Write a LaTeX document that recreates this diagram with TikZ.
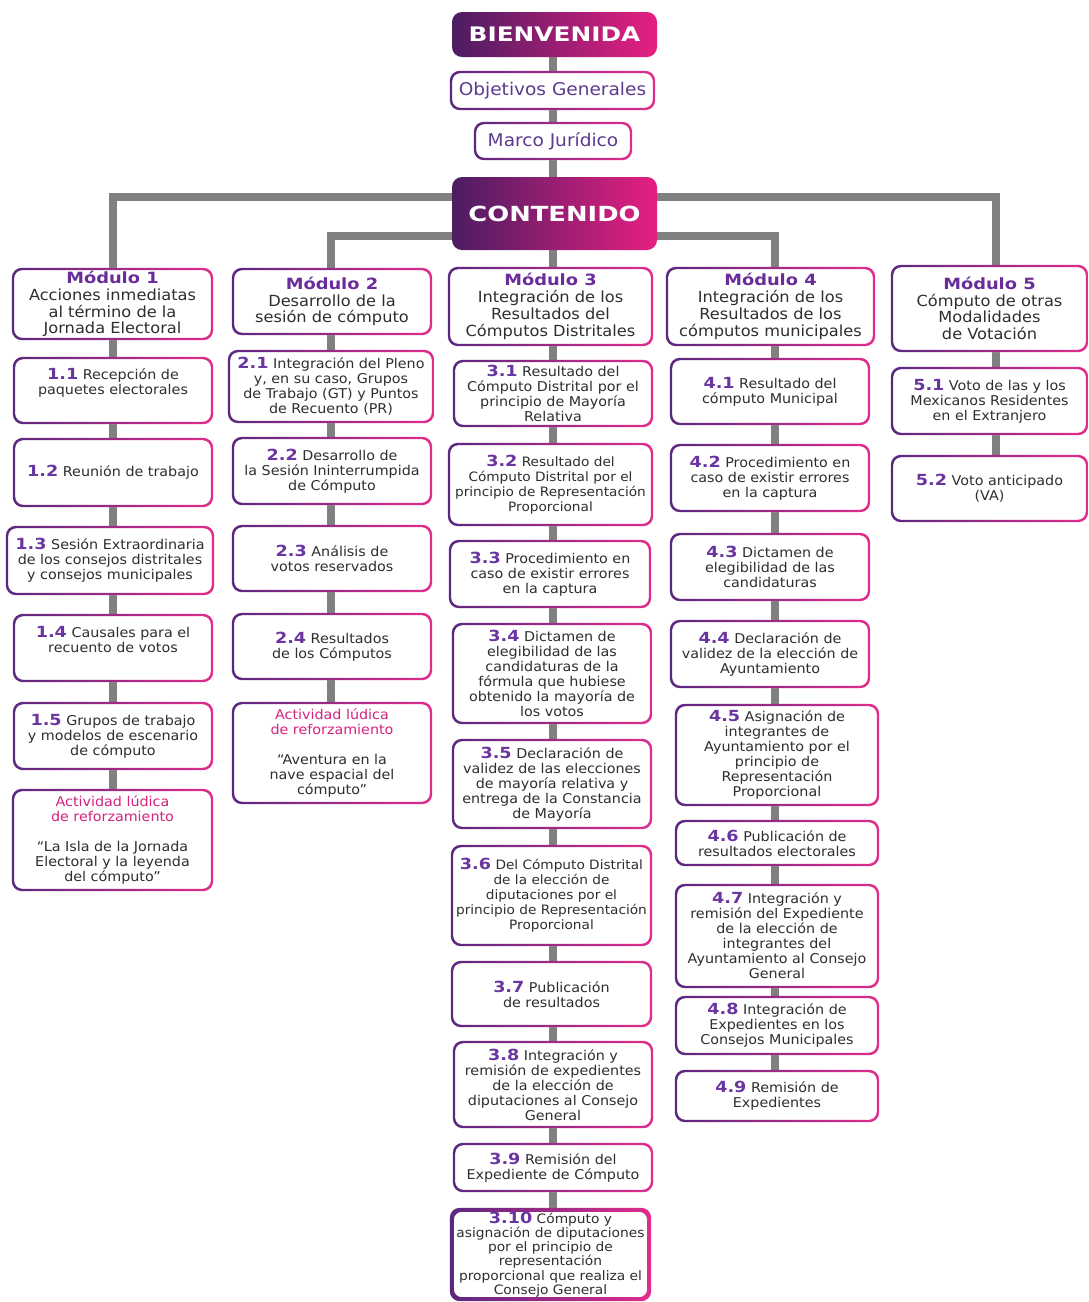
\documentclass[tikz,border=0pt]{standalone}
\usepackage{fontspec}
\setmainfont{DejaVu Sans}
\newfontfamily\bodyf[FakeStretch=1.06]{DejaVu Sans}
\newfontfamily\boldf[FakeStretch=1.15]{DejaVu Sans Bold}
\newfontfamily\bigbf[FakeStretch=1.24]{DejaVu Sans Bold}
\usetikzlibrary{backgrounds}
\definecolor{gL}{HTML}{4B1D63}
\definecolor{gR}{HTML}{E61F81}
\definecolor{bL}{HTML}{5A2880}
\definecolor{bR}{HTML}{E22C8C}
\definecolor{numc}{HTML}{6A35A0}
\definecolor{modc}{HTML}{6A2C9A}
\definecolor{introc}{HTML}{5C3A8E}
\definecolor{pinkc}{HTML}{D4237E}
\definecolor{bodyc}{HTML}{2E2E2E}
\definecolor{lgray}{HTML}{808080}
\newcommand\nm[1]{{\boldf\fontsize{15.3}{15}\selectfont\color{numc}#1}}
\newcommand\mt[1]{{\boldf\fontsize{15.5}{17}\selectfont\color{modc}#1}}
\newcommand\pk[1]{{\color{pinkc}#1}}
\newcommand\bx[7][box]{%
  \pgfmathsetmacro\bw{#5-#3}\pgfmathsetmacro\bh{#6-#4}%
  \pgfmathsetmacro\bcx{(#3+#5)/2}\pgfmathsetmacro\bcy{-(#4+#6)/2}%
  \node[#1,minimum width=\bw pt,minimum height=\bh pt] (#2) at (\bcx,\bcy) {#7};}
\newcommand\ring[2]{%
  \shade[left color=bL,right color=bR,even odd rule,rounded corners=10pt]
    (#1.south west) rectangle (#1.north east)
    [rounded corners=8pt] ([shift={(#2,#2)}]#1.south west) rectangle ([shift={(-#2,-#2)}]#1.north east);}
\tikzset{
  conn/.style={draw=lgray,line width=8pt},
  box/.style={rectangle,rounded corners=10pt,fill=white,inner sep=0pt,align=center,text=bodyc,
    font=\bodyf\fontsize{13.5}{15}\selectfont},
  narrow/.style={box,font=\bodyf\fontsize{12.9}{15}\selectfont},
  tight/.style={box,font=\bodyf\fontsize{13}{14.3}\selectfont},
  modbox/.style={box,font=\bodyf\fontsize{15.3}{16.8}\selectfont},
  intro/.style={box,text=introc,font=\bodyf\fontsize{17.5}{20}\selectfont},
  head/.style={rectangle,rounded corners=10pt,left color=gL,right color=gR,text=white,inner sep=0pt}
}
\begin{document}
\begin{tikzpicture}[x=1pt,y=1pt]
\useasboundingbox (0,0) rectangle (1089,-1302);
\coordinate (c1) at (113,0);
\coordinate (c2) at (331,0);
\coordinate (c3) at (553,0);
\coordinate (c4) at (775,0);
\coordinate (c5) at (996,0);
% top
\bx[head]{bien}{452}{12}{657}{57}{\bigbf\fontsize{20}{22}\selectfont BIENVENIDA}
\bx[intro]{obj}{450}{71}{655}{110}{Objetivos Generales}
\bx[intro]{marco}{474}{122}{632}{160}{Marco Jurídico}
\bx[head]{cont}{452}{177}{657}{250}{\bigbf\fontsize{20.8}{23}\selectfont CONTENIDO}
% column 1
\bx[modbox]{m1}{12}{268}{213}{340}{\mt{Módulo 1}\\Acciones inmediatas\\al término de la\\Jornada Electoral}
\bx{n11}{13}{357}{213}{424}{\nm{1.1} Recepción de\\paquetes electorales\\[4pt]}
\bx{n12}{13}{438}{213}{507}{\nm{1.2} Reunión de trabajo}
\bx{n13}{6}{526}{214}{595}{\nm{1.3} Sesión Extraordinaria\\de los consejos distritales\\y consejos municipales}
\bx{n14}{13}{614}{213}{682}{\nm{1.4} Causales para el\\recuento de votos\\[2pt]}
\bx{n15}{13}{702}{213}{770}{\nm{1.5} Grupos de trabajo\\y modelos de escenario\\de cómputo}
\bx{a1}{12}{789}{213}{891}{\pk{Actividad lúdica}\\\pk{de reforzamiento}\\[15pt]“La Isla de la Jornada\\Electoral y la leyenda\\del cómputo”}
% column 2
\bx[modbox]{m2}{232}{268}{432}{335}{\mt{Módulo 2}\\Desarrollo de la\\sesión de cómputo}
\bx{n21}{228}{350}{434}{423}{\nm{2.1} Integración del Pleno\\y, en su caso, Grupos\\de Trabajo (GT) y Puntos\\de Recuento (PR)}
\bx{n22}{232}{437}{432}{505}{\nm{2.2} Desarrollo de\\la Sesión Ininterrumpida\\de Cómputo}
\bx{n23}{232}{525}{432}{592}{\nm{2.3} Análisis de\\votos reservados}
\bx{n24}{232}{613}{432}{680}{\nm{2.4} Resultados\\de los Cómputos}
\bx{a2}{232}{702}{432}{804}{\pk{Actividad lúdica}\\\pk{de reforzamiento}\\[15pt]“Aventura en la\\nave espacial del\\cómputo”}
% column 3
\bx[modbox]{m3}{448}{267}{653}{346}{\mt{Módulo 3}\\Integración de los\\Resultados del\\Cómputos Distritales}
\bx{n31}{453}{360}{653}{427}{\nm{3.1} Resultado del\\Cómputo Distrital por el\\principio de Mayoría\\Relativa}
\bx[narrow]{n32}{448}{443}{653}{526}{\nm{3.2} Resultado del\\Cómputo Distrital por el\\principio de Representación\\Proporcional}
\bx{n33}{449}{540}{651}{608}{\nm{3.3} Procedimiento en\\caso de existir errores\\en la captura}
\bx{n34}{452}{623}{652}{724}{\nm{3.4} Dictamen de\\elegibilidad de las\\candidaturas de la\\fórmula que hubiese\\obtenido la mayoría de\\los votos}
\bx{n35}{452}{739}{652}{829}{\nm{3.5} Declaración de\\validez de las elecciones\\de mayoría relativa y\\entrega de la Constancia\\de Mayoría}
\bx[narrow]{n36}{451}{845}{652}{946}{\nm{3.6} Del Cómputo Distrital\\de la elección de\\diputaciones por el\\principio de Representación\\Proporcional}
\bx{n37}{451}{961}{652}{1027}{\nm{3.7} Publicación\\de resultados}
\bx{n38}{453}{1041}{653}{1128}{\nm{3.8} Integración y\\remisión de expedientes\\de la elección de\\diputaciones al Consejo\\General}
\bx{n39}{453}{1143}{653}{1192}{\nm{3.9} Remisión del\\Expediente de Cómputo}
\bx[tight]{n310}{450}{1208}{651}{1301}{\nm{3.10} Cómputo y\\asignación de diputaciones\\por el principio de\\representación\\proporcional que realiza el\\Consejo General}
% column 4
\bx[modbox]{m4}{666}{267}{875}{346}{\mt{Módulo 4}\\Integración de los\\Resultados de los\\cómputos municipales}
\bx{n41}{670}{358}{870}{425}{\nm{4.1} Resultado del\\cómputo Municipal}
\bx{n42}{670}{444}{870}{512}{\nm{4.2} Procedimiento en\\caso de existir errores\\en la captura}
\bx{n43}{670}{533}{870}{601}{\nm{4.3} Dictamen de\\elegibilidad de las\\candidaturas}
\bx{n44}{670}{620}{870}{688}{\nm{4.4} Declaración de\\validez de la elección de\\Ayuntamiento}
\bx{n45}{675}{704}{879}{806}{\nm{4.5} Asignación de\\integrantes de\\Ayuntamiento por el\\principio de\\Representación\\Proporcional}
\bx{n46}{675}{820}{879}{866}{\nm{4.6} Publicación de\\resultados electorales}
\bx{n47}{675}{884}{879}{988}{\nm{4.7} Integración y\\remisión del Expediente\\de la elección de\\integrantes del\\Ayuntamiento al Consejo\\General}
\bx{n48}{675}{996}{879}{1055}{\nm{4.8} Integración de\\Expedientes en los\\Consejos Municipales}
\bx{n49}{675}{1070}{879}{1122}{\nm{4.9} Remisión de\\Expedientes}
% column 5
\bx[modbox]{m5}{891}{265}{1088}{352}{\mt{Módulo 5}\\Cómputo de otras\\Modalidades\\de Votación}
\bx{n51}{891}{367}{1088}{435}{\nm{5.1} Voto de las y los\\Mexicanos Residentes\\en el Extranjero}
\bx{n52}{891}{455}{1088}{522}{\nm{5.2} Voto anticipado\\(VA)}
% connectors
\begin{pgfonlayer}{background}
  \foreach \a/\b in {bien/obj,obj/marco,marco/cont,cont/m3}
    \draw[conn] (c3 |- \a.south) -- (c3 |- \b.north);
  \draw[conn] ([yshift=16.5pt]cont.west) -| (c1 |- m1.north);
  \draw[conn] ([yshift=16.5pt]cont.east) -| (c5 |- m5.north);
  \draw[conn] ([yshift=-22.5pt]cont.west) -| (c2 |- m2.north);
  \draw[conn] ([yshift=-22.5pt]cont.east) -| (c4 |- m4.north);
  \foreach \a/\b in {m1/n11,n11/n12,n12/n13,n13/n14,n14/n15,n15/a1}
    \draw[conn] (c1 |- \a.south) -- (c1 |- \b.north);
  \foreach \a/\b in {m2/n21,n21/n22,n22/n23,n23/n24,n24/a2}
    \draw[conn] (c2 |- \a.south) -- (c2 |- \b.north);
  \foreach \a/\b in {m3/n31,n31/n32,n32/n33,n33/n34,n34/n35,n35/n36,n36/n37,n37/n38,n38/n39,n39/n310}
    \draw[conn] (c3 |- \a.south) -- (c3 |- \b.north);
  \foreach \a/\b in {m4/n41,n41/n42,n42/n43,n43/n44,n44/n45,n45/n46,n46/n47,n47/n48,n48/n49}
    \draw[conn] (c4 |- \a.south) -- (c4 |- \b.north);
  \foreach \a/\b in {m5/n51,n51/n52}
    \draw[conn] (c5 |- \a.south) -- (c5 |- \b.north);
\end{pgfonlayer}
% gradient borders
\foreach \n in {obj,marco,m1,n11,n12,n13,n14,n15,a1,m2,n21,n22,n23,n24,a2,m3,n31,n32,n33,n34,n35,n36,n37,n38,n39,m4,n41,n42,n43,n44,n45,n46,n47,n48,n49,m5,n51,n52}
  {\ring{\n}{2.4}}
\ring{n310}{4}
\end{tikzpicture}
\end{document}
